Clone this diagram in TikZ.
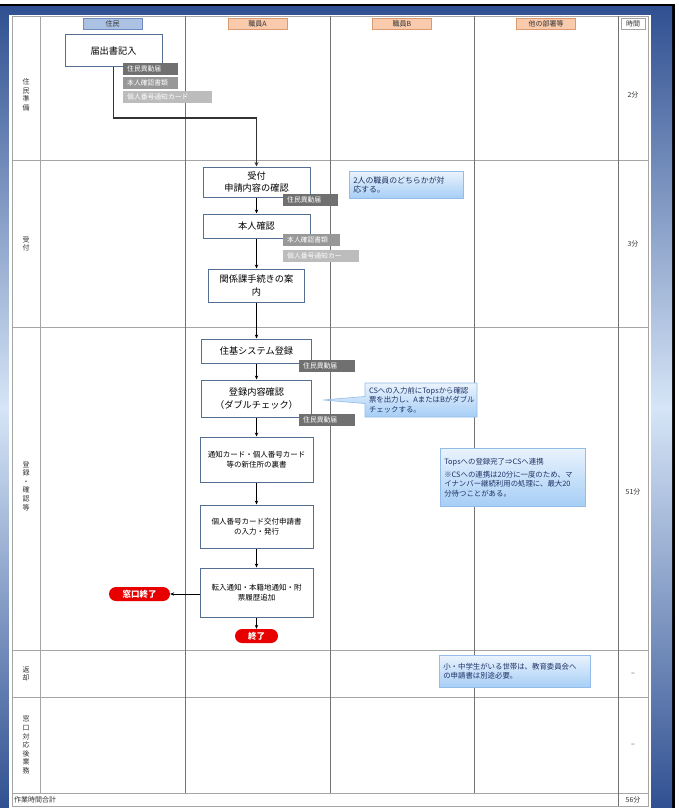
\documentclass[tikz,border=0pt]{standalone}
\usepackage{fontspec}
\setmainfont{Noto Sans CJK JP}
\usetikzlibrary{arrows.meta,shapes.callouts}

\definecolor{frameDark}{RGB}{48,80,145}
\definecolor{frameLight}{RGB}{214,229,247}
\definecolor{gridLine}{RGB}{165,165,165}
\definecolor{laneLine}{RGB}{115,115,115}
\definecolor{procLine}{RGB}{84,110,148}
\definecolor{hdrBlue}{RGB}{172,194,228}
\definecolor{hdrBlueLine}{RGB}{112,140,190}
\definecolor{hdrOrange}{RGB}{249,202,172}
\definecolor{hdrOrangeLine}{RGB}{222,152,112}
\definecolor{tagDark}{RGB}{112,112,112}
\definecolor{tagMid}{RGB}{152,152,152}
\definecolor{tagLight}{RGB}{188,188,188}
\definecolor{noteTop}{RGB}{234,243,253}
\definecolor{noteBottom}{RGB}{166,206,246}
\definecolor{noteLine}{RGB}{148,188,232}
\definecolor{noteText}{RGB}{30,50,100}
\definecolor{endRed}{RGB}{232,0,0}
\definecolor{labelText}{RGB}{50,50,50}

\tikzset{
  gridrule/.style={draw=gridLine, line width=0.9pt},
  lanerule/.style={draw=laneLine, line width=0.8pt},
  lanehead/.style={draw=#1Line, fill=#1, font=\fontsize{7}{8}\selectfont,
    text=labelText, inner sep=0pt, minimum height=11pt, minimum width=59pt},
  rowlabel/.style={font=\fontsize{7}{8.6}\selectfont, text=labelText, align=center, inner sep=0pt},
  timelabel/.style={font=\fontsize{7}{8}\selectfont, text=labelText, inner sep=0pt},
  proc/.style={draw=procLine, fill=white, line width=1pt, align=center, inner sep=1pt,
    font=\fontsize{9.2}{12.5}\selectfont, text=black},
  procsm/.style={proc, font=\fontsize{7.5}{10.5}\selectfont},
  tagbox/.style={fill=#1, text=white, font=\fontsize{6.8}{7}\selectfont, anchor=west,
    minimum height=12pt, inner xsep=4pt, inner ysep=0pt, align=left},
  note/.style={draw=noteLine, line width=0.6pt, top color=noteTop, bottom color=noteBottom,
    text=noteText, font=\fontsize{7.4}{9.4}\selectfont, align=left, inner xsep=4pt, inner ysep=2pt},
  endpill/.style={fill=endRed, text=white, rounded corners=7pt, inner sep=0pt,
    font=\bfseries\fontsize{8.5}{9}\selectfont, minimum height=14pt},
  flow/.style={draw=black, line width=0.6pt, -{Stealth[length=4pt,width=3.4pt]}},
  feed/.style={draw=black!80, line width=1.3pt, -{Stealth[length=4.5pt,width=4pt]}},
}

\begin{document}
\begin{tikzpicture}[x=1pt,y=-1pt]
\useasboundingbox (0,0) rectangle (679,808);

% page frame
\fill[white] (0,0) rectangle (679,808);
\fill[black] (0,4) rectangle (675,808);
\shade[top color=frameDark, bottom color=frameDark, middle color=frameLight] (0,7) rectangle (672,808);
\fill[white] (9,15) rectangle (651,808);

% table grid
\draw[gridrule] (12,16) rectangle (648,806);
\foreach \yy in {160,327,650,697,793} \draw[gridrule] (12,\yy) -- (648,\yy);
\draw[gridrule] (40,16) -- (40,793);
\foreach \xx in {185,330,474} \draw[lanerule] (\xx,16) -- (\xx,793);
\draw[lanerule] (618,16) -- (618,806);

% lane headers
\node[lanehead=hdrBlue] (hResident) at (112.5,23.5) {住民};
\node[lanehead=hdrOrange] (hStaffA) at (257.5,23.5) {職員A};
\node[lanehead=hdrOrange] (hStaffB) at (402,23.5) {職員B};
\node[lanehead=hdrOrange] (hOther) at (546,23.5) {他の部署等};
\node[draw=gridLine, fill=white, font=\fontsize{7}{8}\selectfont, text=labelText,
      inner sep=0pt, minimum height=11pt, minimum width=24pt] (hTime) at (633,23.5) {時間};

% row labels
\node[rowlabel] (rPrep) at (26,95) {住\\民\\準\\備};
\node[rowlabel] (rRecv) at (26,244) {受\\付};
\node[rowlabel] (rReg) at (26,486) {登\\録\\・\\確\\認\\等};
\node[rowlabel] (rRet) at (26,674) {返\\却};
\node[rowlabel] (rAfter) at (26,745) {窓\\口\\対\\応\\後\\業\\務};

% times
\node[timelabel] (tPrep) at (633,95) {2分};
\node[timelabel] (tRecv) at (633,244) {3分};
\node[timelabel] (tReg) at (633,492) {51分};
\node[timelabel] (tRet) at (633,674) {–};
\node[timelabel] (tAfter) at (633,745) {–};
\node[timelabel, anchor=west] (totLabel) at (14,800) {作業時間合計};
\node[timelabel] (tTotal) at (633,800) {56分};

% process boxes
\node[proc, minimum width=97pt, minimum height=32pt] (form) at (113.5,51) {届出書記入};
\node[proc, minimum width=107pt, minimum height=30pt] (recv) at (256.5,182) {受付\\申請内容の確認};
\node[proc, minimum width=107pt, minimum height=24pt] (idchk) at (256.5,226) {本人確認};
\node[proc, minimum width=96pt, minimum height=33pt] (guide) at (256.5,285.5) {関係課手続きの案\\内};
\node[proc, minimum width=110pt, minimum height=24pt] (sysreg) at (256.5,351) {住基システム登録};
\node[proc, minimum width=110pt, minimum height=37pt] (dbl) at (256.5,398.5) {登録内容確認\\（ダブルチェック）};
\node[procsm, minimum width=113pt, minimum height=45pt] (endorse) at (256.5,459.5) {通知カード・個人番号カード\\等の新住所の裏書};
\node[procsm, minimum width=113pt, minimum height=43pt] (apply) at (256.5,526.5) {個人番号カード交付申請書\\の入力・発行};
\node[procsm, minimum width=113pt, minimum height=49pt] (notify) at (256.5,592.5) {転入通知・本籍地通知・附\\票履歴追加};
\node[endpill, minimum width=61pt] (deskEnd) at (139.5,594) {窓口終了};
\node[endpill, minimum width=43pt] (finish) at (256.5,636) {終了};

% connectors
\coordinate (turn) at (0,118);
\draw[feed] (form.south) -- (form.south |- turn) -| (recv.north);
\draw[flow] (recv) -- (idchk);
\draw[flow] (idchk) -- (guide);
\draw[flow] (guide) -- (sysreg);
\draw[flow] (sysreg) -- (dbl);
\draw[flow] (dbl) -- (endorse);
\draw[flow] (endorse) -- (apply);
\draw[flow] (apply) -- (notify);
\draw[flow] (notify.west |- deskEnd) -- (deskEnd.east);
\draw[flow] (notify) -- (finish);

% document tags
\node[tagbox=tagDark, text width=47pt] (tagA1) at (123,69) {住民異動届};
\node[tagbox=tagMid, text width=47pt] (tagA2) at (123,83) {本人確認書類};
\node[tagbox=tagLight, text width=81pt] (tagA3) at (123,97) {個人番号通知カード};
\node[tagbox=tagDark, text width=47pt] (tagB1) at (283,200) {住民異動届};
\node[tagbox=tagMid, text width=49pt] (tagB2) at (283,240) {本人確認書類};
\node[tagbox=tagLight, text width=68pt] (tagB3) at (283,255.5) {個人番号通知カー};
\node[tagbox=tagDark, text width=48pt] (tagC1) at (299,365.5) {住民異動届};
\node[tagbox=tagDark, text width=48pt] (tagC2) at (299,420) {住民異動届};

% notes
\node[note, anchor=north west, text width=106pt, minimum height=27pt,
      font=\fontsize{7.9}{9.6}\selectfont] (noteStaff) at (349,171)
  {2人の職員のどちらかが対\\応する。};
\node[note, shape=rectangle callout, callout absolute pointer={(323,400)},
      text width=104pt, minimum height=34pt] (noteCheck) at (421,400)
  {CSへの入力前にTopsから確認\\票を出力し、AまたはBがダブル\\チェックする。};
\node[note, anchor=north west, text width=137pt, minimum height=58pt] (noteLink) at (440,448)
  {Topsへの登録完了⇒CSへ連携\\[4pt]※CSへの連携は20分に一度のため、マ\\イナンバー継続利用の処理に、最大20\\分待つことがある。};
\node[note, anchor=north west, text width=143pt, minimum height=32pt] (noteSchool) at (439,655)
  {小・中学生がいる世帯は、教育委員会へ\\の申請書は別途必要。};

\end{tikzpicture}
\end{document}
